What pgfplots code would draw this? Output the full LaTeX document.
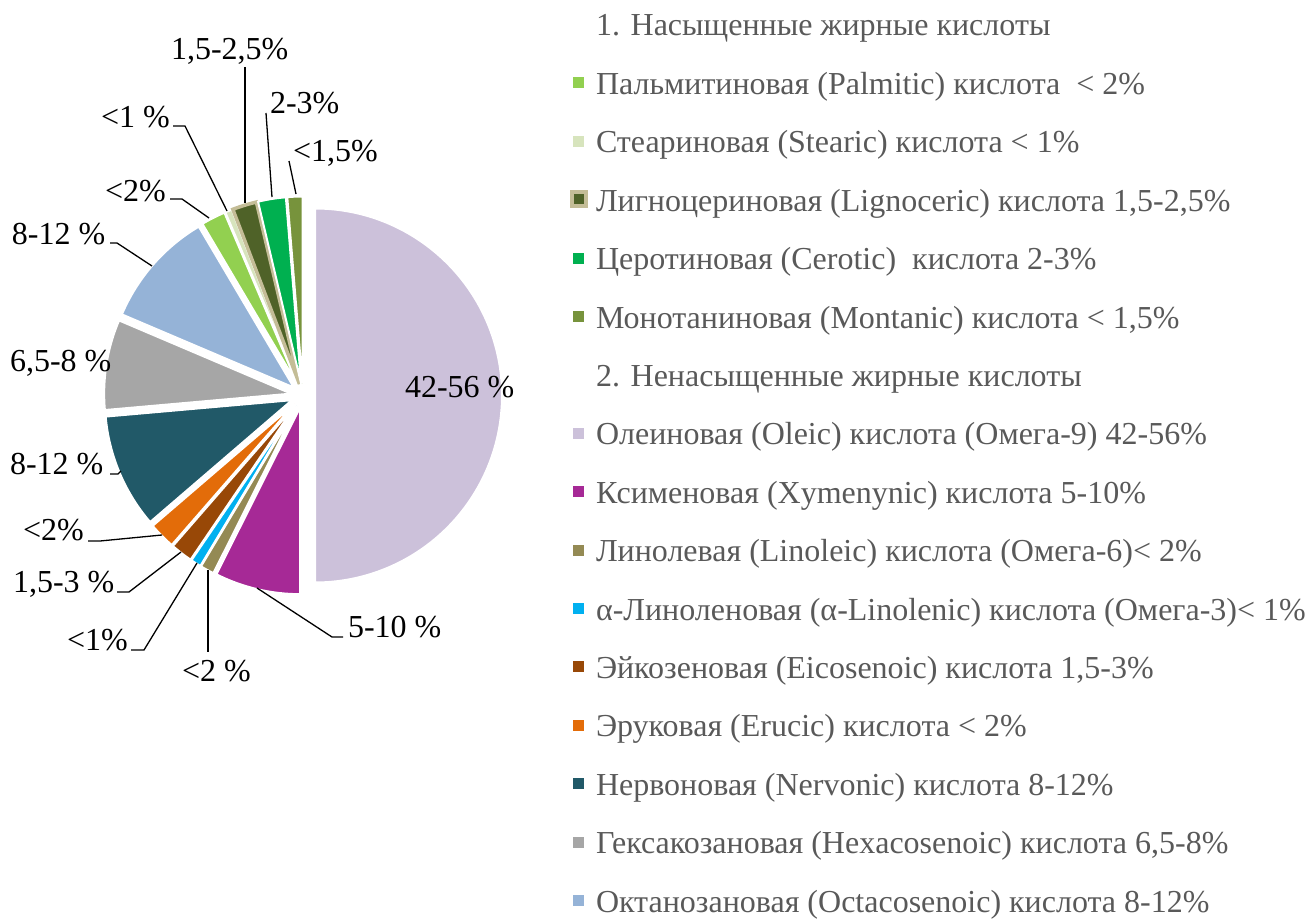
\documentclass[border=0pt]{standalone}
\usepackage{pgfplots}
\pgfplotsset{compat=1.18}
\usepackage{pgfplotstable}
\usepackage{fontspec}
\setmainfont{Liberation Serif}

\definecolor{cOle}{RGB}{204,193,218}
\definecolor{cXym}{RGB}{166,41,150}
\definecolor{cLin}{RGB}{148,138,84}
\definecolor{cAln}{RGB}{0,176,240}
\definecolor{cEic}{RGB}{152,72,7}
\definecolor{cEru}{RGB}{227,108,9}
\definecolor{cNer}{RGB}{33,89,104}
\definecolor{cHex}{RGB}{166,166,166}
\definecolor{cOct}{RGB}{149,179,215}
\definecolor{cPal}{RGB}{146,208,80}
\definecolor{cSte}{RGB}{215,228,189}
\definecolor{cLig}{RGB}{79,98,40}
\definecolor{cLigB}{RGB}{196,189,151}
\definecolor{cCer}{RGB}{0,176,80}
\definecolor{cMon}{RGB}{119,147,60}
\definecolor{txt}{RGB}{89,89,89}

% slice values (percent of the pie), clockwise from 12 o'clock
\pgfplotstableread{
acid         val   fillc  borderc lw
Oleic        50.0  cOle   white   2
Xymenynic    7.4   cXym   white   2
Linoleic     1.2   cLin   white   2
aLinolenic   0.9   cAln   white   2
Eicosenoic   1.9   cEic   white   2
Erucic       2.3   cEru   white   2
Nervonic     9.9   cNer   white   2
Hexacosenoic 7.8   cHex   white   2
Octacosenoic 10.1  cOct   white   2
Palmitic     2.1   cPal   white   2
Stearic      0.6   cSte   white   2
Lignoceric   2.1   cLig   cLigB   3.5
Cerotic      2.4   cCer   white   2
Montanic     1.3   cMon   white   2
}\pietable

\newcommand\lf{\fontsize{32}{38}\selectfont}
\tikzset{lab/.style={font=\lf, inner sep=0pt, outer sep=0pt, anchor=base west},
         leg/.style={lab, text=txt}}
% legend row: #1 baseline, #2 colour, #3 text
\newcommand\legrow[3]{%
  \fill[#2] (axis cs:573,#1-17) rectangle (axis cs:584,#1-6);
  \node[leg] at (axis cs:596,#1) {#3};}

\begin{document}
\begin{tikzpicture}
\begin{axis}[
  at={(0,0)}, anchor=south west,
  width=1305pt, height=920pt, scale only axis,
  xmin=0, xmax=1305, ymin=0, ymax=920, y dir=reverse,
  axis lines=none, clip=false,
]
\pgfplotstablegetrowsof{\pietable}
\pgfmathtruncatemacro\nrows{\pgfplotsretval-1}
\gdef\cum{0}
\pgfplotsforeachungrouped \i in {0,...,\nrows}{%
  \pgfplotstablegetelem{\i}{val}\of\pietable \let\v\pgfplotsretval
  \pgfplotstablegetelem{\i}{fillc}\of\pietable \let\fc\pgfplotsretval
  \pgfplotstablegetelem{\i}{borderc}\of\pietable \let\bc\pgfplotsretval
  \pgfplotstablegetelem{\i}{lw}\of\pietable \let\lw\pgfplotsretval
  \pgfmathsetmacro\sa{90-3.6*\cum}%
  \pgfmathsetmacro\ea{90-3.6*(\cum+\v)}%
  \pgfmathsetmacro\ma{90-3.6*(\cum+\v/2)}%
  \pgfmathsetmacro\newcum{\cum+\v}%
  \xdef\cum{\newcum}%
  \edef\temp{\noexpand\filldraw[fill=\fc, draw=\bc, line width=\lw pt, line join=miter]
    ([shift={(\ma:12pt)}]axis cs:303,395.5) -- ++(\sa:187pt)
    arc[start angle=\sa, end angle=\ea, radius=187pt] -- cycle;}%
  \temp
}

% leader lines
\begin{scope}[black, line width=1.3pt]
\draw (axis cs:257,588) -- (axis cs:332,637) -- (axis cs:343,637);
\draw (axis cs:208,570) -- (axis cs:208,652);
\draw (axis cs:197,563) -- (axis cs:144,650) -- (axis cs:131,650);
\draw (axis cs:181,552) -- (axis cs:129,592) -- (axis cs:117,592);
\draw (axis cs:162,535) -- (axis cs:100,541) -- (axis cs:88,541);
\draw (axis cs:110,474) -- (axis cs:118,474) -- (axis cs:121,471);
\draw (axis cs:110,243) -- (axis cs:117,243) -- (axis cs:152,266);
\draw (axis cs:170,199) -- (axis cs:182,199) -- (axis cs:209,218);
\draw (axis cs:173,126) -- (axis cs:185,126) -- (axis cs:227,211);
\draw (axis cs:245,67) -- (axis cs:245,203);
\draw (axis cs:266,113) -- (axis cs:272,197);
\draw (axis cs:289,161) -- (axis cs:296,194);
\end{scope}

% data labels
\node[lab] at (axis cs:405,397) {42-56 \%};
\node[lab] at (axis cs:348,637) {5-10 \%};
\node[lab] at (axis cs:182,681) {<2 \%};
\node[lab] at (axis cs:67,650) {<1\%};
\node[lab] at (axis cs:13,592) {1,5-3 \%};
\node[lab] at (axis cs:23,540) {<2\%};
\node[lab] at (axis cs:10,474) {8-12 \%};
\node[lab] at (axis cs:10,371) {6,5-8 \%};
\node[lab] at (axis cs:12,244) {8-12 \%};
\node[lab] at (axis cs:105,201) {<2\%};
\node[lab] at (axis cs:101,128) {<1 \%};
\node[lab] at (axis cs:171,60) {1,5-2,5\%};
\node[lab] at (axis cs:270,114) {2-3\%};
\node[lab] at (axis cs:293,161) {<1,5\%};

% legend
\node[leg] at (axis cs:596,36.0) {1. Насыщенные жирные кислоты};
\legrow{94.4}{cPal}{Пальмитиновая (Palmitic) кислота\ \ < 2\%}
\legrow{152.8}{cSte}{Стеариновая (Stearic) кислота < 1\%}
\filldraw[fill=cLig, draw=cLigB, line width=4pt] (axis cs:572,191.7) rectangle (axis cs:586,205.7);
\node[leg] at (axis cs:596,211.2) {Лигноцериновая (Lignoceric) кислота 1,5-2,5\%};
\legrow{269.6}{cCer}{Церотиновая (Cerotic)\ \ кислота 2-3\%}
\legrow{328.0}{cMon}{Монотаниновая (Montanic) кислота < 1,5\%}
\node[leg] at (axis cs:596,386.4) {2. Ненасыщенные жирные кислоты};
\legrow{444.8}{cOle}{Олеиновая (Oleic) кислота (Омега-9) 42-56\%}
\legrow{503.2}{cXym}{Ксименовая (Xymenynic) кислота 5-10\%}
\legrow{561.6}{cLin}{Линолевая (Linoleic) кислота (Омега-6)< 2\%}
\legrow{620.0}{cAln}{α-Линоленовая (α-Linolenic) кислота (Омега-3)< 1\%}
\legrow{678.4}{cEic}{Эйкозеновая (Eicosenoic) кислота 1,5-3\%}
\legrow{736.8}{cEru}{Эруковая (Erucic) кислота < 2\%}
\legrow{795.2}{cNer}{Нервоновая (Nervonic) кислота 8-12\%}
\legrow{853.6}{cHex}{Гексакозановая (Hexacosenoic) кислота 6,5-8\%}
\legrow{912.0}{cOct}{Октанозановая (Octacosenoic) кислота 8-12\%}
\end{axis}
\pgfresetboundingbox
\useasboundingbox (0,0) rectangle (1305pt,920pt);
\end{tikzpicture}
\end{document}
